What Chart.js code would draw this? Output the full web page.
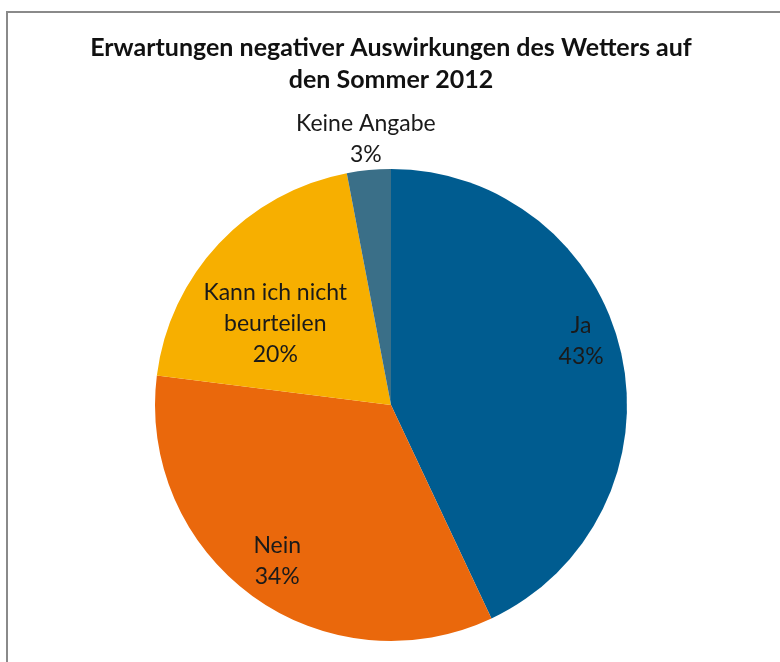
<!DOCTYPE html>
<html>
<head>
<meta charset="utf-8">
<script src="https://cdn.jsdelivr.net/npm/chart.js@4"></script>
<style>
  html, body { margin: 0; padding: 0; background: #fff; }
  #wrap { position: relative; width: 780px; height: 662px; overflow: hidden; }
  #frame { position: absolute; left: 6px; top: 11px; width: 800px; height: 700px; border-left: 2px solid #8a8a8a; border-top: 2px solid #8a8a8a; }
  canvas { position: absolute; left: 0; top: 0; }
</style>
</head>
<body>
<div id="wrap">
  <div id="frame"></div>
  <canvas id="pieChart" width="780" height="662"></canvas>
</div>
<script>
// Daten
const categories = ['Ja', 'Nein', 'Kann ich nicht beurteilen', 'Keine Angabe'];
const shares = [43, 34, 20, 3];
const labelLines = [['Ja'], ['Nein'], ['Kann ich nicht', 'beurteilen'], ['Keine Angabe']];
const sliceColors = ['#005c90', '#ea680c', '#f7af00', '#3a6f88'];
const titleLines = ['Erwartungen negativer Auswirkungen des Wetters auf', 'den Sommer 2012'];

const fontFamily = "Lato, 'Open Sans', sans-serif";

// Beschriftungen in den Segmenten (radialer Anteil + Winkelkorrektur in Grad)
const labelPlugin = {
    id: 'sliceLabels',
    afterDatasetsDraw(chart, args, opts) {
        const ctx = chart.ctx;
        const meta = chart.getDatasetMeta(0);
        ctx.save();
        ctx.font = '23px ' + fontFamily;
        ctx.fillStyle = '#1a1a1a';
        ctx.textAlign = 'center';
        ctx.textBaseline = 'middle';
        meta.data.forEach((arc, i) => {
            const p = arc.getProps(['x', 'y', 'startAngle', 'endAngle', 'outerRadius'], true);
            const mid = (p.startAngle + p.endAngle) / 2 + opts.shift[i] * Math.PI / 180;
            const r = p.outerRadius * opts.radius[i];
            const cx = p.x + Math.cos(mid) * r;
            const cy = p.y + Math.sin(mid) * r;
            const lines = labelLines[i].concat([shares[i] + '%']);
            const lh = 31;
            const top = cy - (lines.length - 1) * lh / 2;
            lines.forEach((t, k) => ctx.fillText(t, cx, top + k * lh));
        });
        ctx.restore();
    }
};

new Chart(document.getElementById('pieChart'), {
    type: 'pie',
    data: {
        labels: categories,
        datasets: [{
            data: shares,
            backgroundColor: sliceColors,
            borderWidth: 0
        }]
    },
    options: {
        responsive: false,
        animation: false,
        layout: { padding: { left: 2, right: 0, top: 0, bottom: 21 } },
        plugins: {
            legend: { display: false },
            tooltip: { enabled: false },
            title: {
                display: true,
                text: titleLines,
                color: '#111',
                font: { family: fontFamily, size: 25, weight: 'bold', lineHeight: 1.28 },
                padding: { top: 32, bottom: 73 }
            },
            sliceLabels: {
                radius: [0.85, 0.82, 0.6, 1.13],
                shift: [-6, 0, -8, 0]
            }
        }
    },
    plugins: [labelPlugin]
});
</script>
</body>
</html>
